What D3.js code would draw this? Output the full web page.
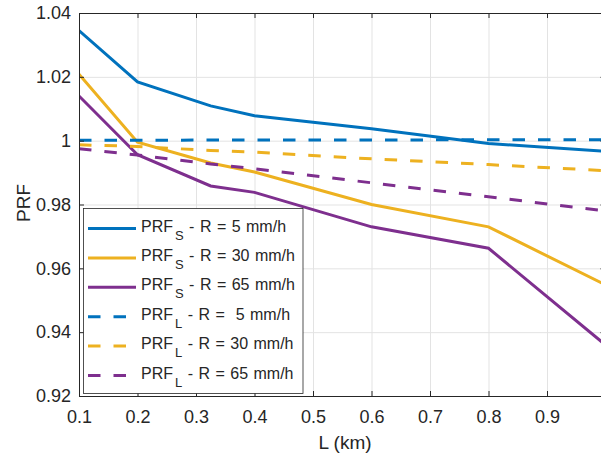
<!DOCTYPE html>
<html>
<head>
<meta charset="utf-8">
<script src="https://cdn.jsdelivr.net/npm/d3@7/dist/d3.min.js"></script>
<style>
	body { margin: 0; background: #fff; }
	text { font-family: 'Liberation Sans', Arial, sans-serif; fill: #262626; }
	.grid line { stroke: #e3e3e3; stroke-width: 1; }
	.grid path { display: none; }
	.ax path, .ax line { stroke: #262626; stroke-width: 1; }
</style>
</head>
<body>
<div id="chart"></div>
<script>
// path length L (km)
var lengths = [0.1, 0.2, 0.325, 0.4, 0.6, 0.8, 1.0];

// PRF_S (solid) for R = 5, 30, 65 mm/h
var prfS5  = [1.0345, 1.0184, 1.0109, 1.0078, 1.0037, 0.9991, 0.9967];
var prfS30 = [1.0208, 0.9995, 0.9930, 0.9902, 0.9800, 0.9730, 0.9548];
var prfS65 = [1.0140, 0.9956, 0.9858, 0.9838, 0.9730, 0.9663, 0.9360];

// PRF_L (dashed) for R = 5, 30, 65 mm/h
var prfL5  = [1.0001, 1.0001, 1.0002, 1.0002, 1.0002, 1.0003, 1.0003];
var prfL30 = [0.9987, 0.9982, 0.9969, 0.9964, 0.9943, 0.9925, 0.9906];
var prfL65 = [0.9975, 0.9955, 0.9927, 0.9912, 0.9868, 0.9824, 0.9780];

// labelled x ticks; the tick at 1.0 falls just past the right edge of the picture
var xTicks = [0.1, 0.2, 0.3, 0.4, 0.5, 0.6, 0.7, 0.8, 0.9];
var yTicks = [0.92, 0.94, 0.96, 0.98, 1.00, 1.02, 1.04];

var legendSub  = ['S', 'S', 'S', 'L', 'L', 'L'];
var legendRest = [' - R = 5 mm/h', ' - R = 30 mm/h', ' - R = 65 mm/h',
                  ' - R =  5 mm/h', ' - R = 30 mm/h', ' - R = 65 mm/h'];

var series = [prfS5, prfS30, prfS65, prfL5, prfL30, prfL65];
var colors = ['#0072BD', '#EDB120', '#7E2F8E', '#0072BD', '#EDB120', '#7E2F8E'];
var dashed = [false, false, false, true, true, true];

var width = 601, height = 460;
var margin = {top: 13, left: 79};
var plotW = 526.5, plotH = 383;

var x = d3.scaleLinear().domain([0.1, 1.0]).range([0, plotW]);
var y = d3.scaleLinear().domain([0.92, 1.04]).range([plotH, 0]);

var svg = d3.select('#chart').append('svg')
	.attr('width', width)
	.attr('height', height);

var g = svg.append('g')
	.attr('transform', 'translate(' + margin.left + ',' + margin.top + ')');

// grid
g.append('g')
	.attr('class', 'grid')
	.call(d3.axisBottom(x).tickValues(xTicks).tickSize(plotH).tickFormat(''));
g.append('g')
	.attr('class', 'grid')
	.call(d3.axisLeft(y).tickValues(yTicks).tickSize(-plotW).tickFormat(''));

svg.append('clipPath').attr('id', 'clip')
	.append('rect').attr('width', plotW).attr('height', plotH);

var line = d3.line()
	.x(function(d, i) { return x(lengths[i]); })
	.y(function(d) { return y(d); });

var lines = g.append('g').attr('clip-path', 'url(#clip)');
series.forEach(function(s, i) {
	lines.append('path')
		.datum(s)
		.attr('fill', 'none')
		.attr('stroke', colors[i])
		.attr('stroke-width', 3)
		.attr('stroke-dasharray', dashed[i] ? '12.5,13' : null)
		.attr('d', line);
});

// axes (box with inward ticks)
var fmtY = function(d) { return d == 1 ? '1' : d3.format('.2f')(d); };

g.append('g').attr('class', 'ax')
	.attr('transform', 'translate(0,' + plotH + ')')
	.call(d3.axisBottom(x).tickValues(xTicks).tickSizeInner(-5).tickSizeOuter(0).tickPadding(14)
		.tickFormat(d3.format('.1f')));
g.append('g').attr('class', 'ax')
	.call(d3.axisTop(x).tickValues(xTicks).tickSizeInner(-5).tickSizeOuter(0).tickFormat(''));
g.append('g').attr('class', 'ax')
	.call(d3.axisLeft(y).tickValues(yTicks).tickSizeInner(-5).tickSizeOuter(0).tickPadding(8)
		.tickFormat(fmtY));
g.append('g').attr('class', 'ax')
	.attr('transform', 'translate(' + plotW + ',0)')
	.call(d3.axisRight(y).tickValues(yTicks).tickSizeInner(-5).tickSizeOuter(0).tickFormat(''));

g.selectAll('.ax text')
	.style('font-size', '18px')
	.style('fill', '#262626');

// axis labels
svg.append('text')
	.attr('x', 345)
	.attr('y', 449)
	.attr('text-anchor', 'middle')
	.style('font-size', '19px')
	.text('L (km)');

svg.append('text')
	.attr('transform', 'translate(30,203) rotate(-90)')
	.attr('text-anchor', 'middle')
	.style('font-size', '19px')
	.text('PRF');

// legend
var legend = svg.append('g');
legend.append('rect')
	.attr('x', 83.5)
	.attr('y', 208.5)
	.attr('width', 219.5)
	.attr('height', 185)
	.attr('fill', '#fff')
	.attr('stroke', '#262626')
	.attr('stroke-width', 0.8);

var rowY = function(i) { return 228.5 + i * 29.4; };

legendSub.forEach(function(sub, i) {
	legend.append('line')
		.attr('x1', 88).attr('x2', 136)
		.attr('y1', rowY(i)).attr('y2', rowY(i))
		.attr('stroke', colors[i])
		.attr('stroke-width', 3)
		.attr('stroke-dasharray', dashed[i] ? '12.5,13' : null);

	var t = legend.append('text')
		.attr('x', 141)
		.attr('y', rowY(i) + 3)
		.style('font-size', '16px')
		.style('white-space', 'pre')
		.attr('xml:space', 'preserve');
	t.append('tspan').text('PRF');
	t.append('tspan').attr('dy', 8).attr('dx', 2).style('font-size', '13px').text(sub);
	t.append('tspan').attr('dy', -8).style('word-spacing', '1px').text(legendRest[i]);
});
</script>
</body>
</html>
